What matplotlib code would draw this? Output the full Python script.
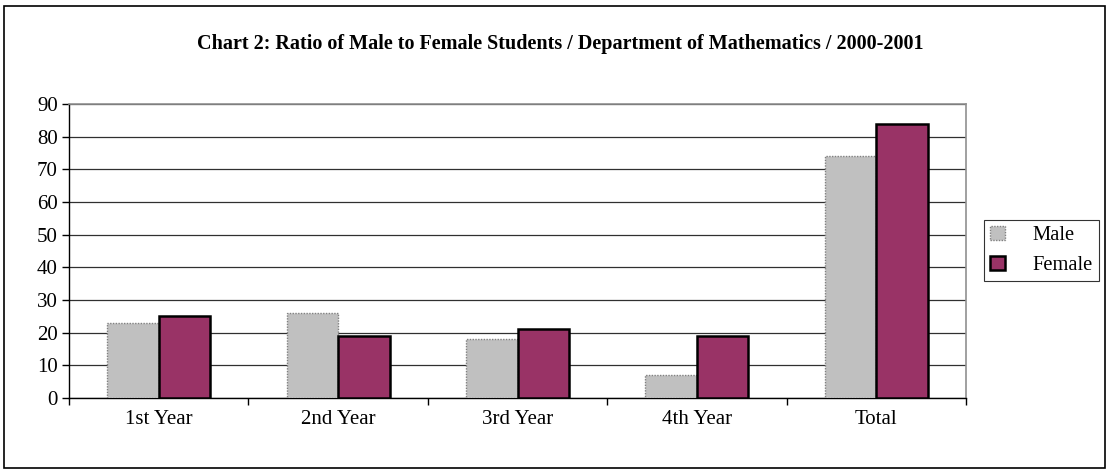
import matplotlib
matplotlib.use("Agg")
import matplotlib.pyplot as plt
import numpy as np
from matplotlib.patches import Rectangle

categories = ["1st Year", "2nd Year", "3rd Year", "4th Year", "Total"]
male = [23, 26, 18, 7, 74]
female = [25, 19, 21, 19, 84]
title = "Chart 2: Ratio of Male to Female Students / Department of Mathematics / 2000-2001"

plt.rcParams['font.family'] = ['Liberation Serif', 'DejaVu Serif']

W, H = 1109, 472
fig = plt.figure(figsize=(W/100, H/100), dpi=100)
# outer border
fig.patches.append(Rectangle((4/W, 4/H), 1101/W, 462/H, transform=fig.transFigure,
                             fill=False, edgecolor='black', linewidth=1.2))

ax = fig.add_axes([69/W, 1-398/H, (966-69)/W, (398-104)/H])
x = np.arange(len(categories))
bw = 0.287
ax.bar(x - bw/2, male, width=bw, color='#C0C0C0', edgecolor='#808080',
       linewidth=1.0, linestyle=(0, (1, 1)), label='Male', zorder=3)
ax.bar(x + bw/2, female, width=bw, color='#993366', edgecolor='black',
       linewidth=1.8, label='Female', zorder=3)

ax.set_ylim(0, 90)
ax.set_xlim(-0.5, len(categories) - 0.5)
ax.set_yticks(np.arange(0, 91, 10))
ax.yaxis.grid(True, color='#303030', linewidth=0.9, zorder=0)
ax.set_axisbelow(True)

ax.set_xticks(np.arange(-0.5, len(categories), 1.0))
ax.set_xticklabels([])
ax.set_xticks(x, minor=True)
ax.set_xticklabels(categories, minor=True)
ax.tick_params(axis='x', which='minor', length=0, pad=9, labelsize=15)
ax.tick_params(axis='x', which='major', direction='out', length=5, width=1, color='black')
ax.tick_params(axis='y', direction='out', length=5, width=1, color='black', labelsize=15, pad=3)

for s in ['top', 'right']:
    ax.spines[s].set_color('#909090')
    ax.spines[s].set_linewidth(1.2)
for s in ['left', 'bottom']:
    ax.spines[s].set_color('black')
    ax.spines[s].set_linewidth(1.0)

fig.text(560/W, 1-44/H, title, ha='center', va='center', fontsize=14.5, fontweight='bold')

leg = fig.legend(loc='center', bbox_to_anchor=(1041.5/W, 1-250.5/H), frameon=True,
                 fancybox=False, edgecolor='black', fontsize=14.8, handlelength=0.7,
                 handleheight=0.7, handletextpad=1.35, borderpad=0.3, labelspacing=0.5,
                 borderaxespad=0)
leg.get_frame().set_linewidth(0.8)

fig.savefig("out.png", dpi=100)
